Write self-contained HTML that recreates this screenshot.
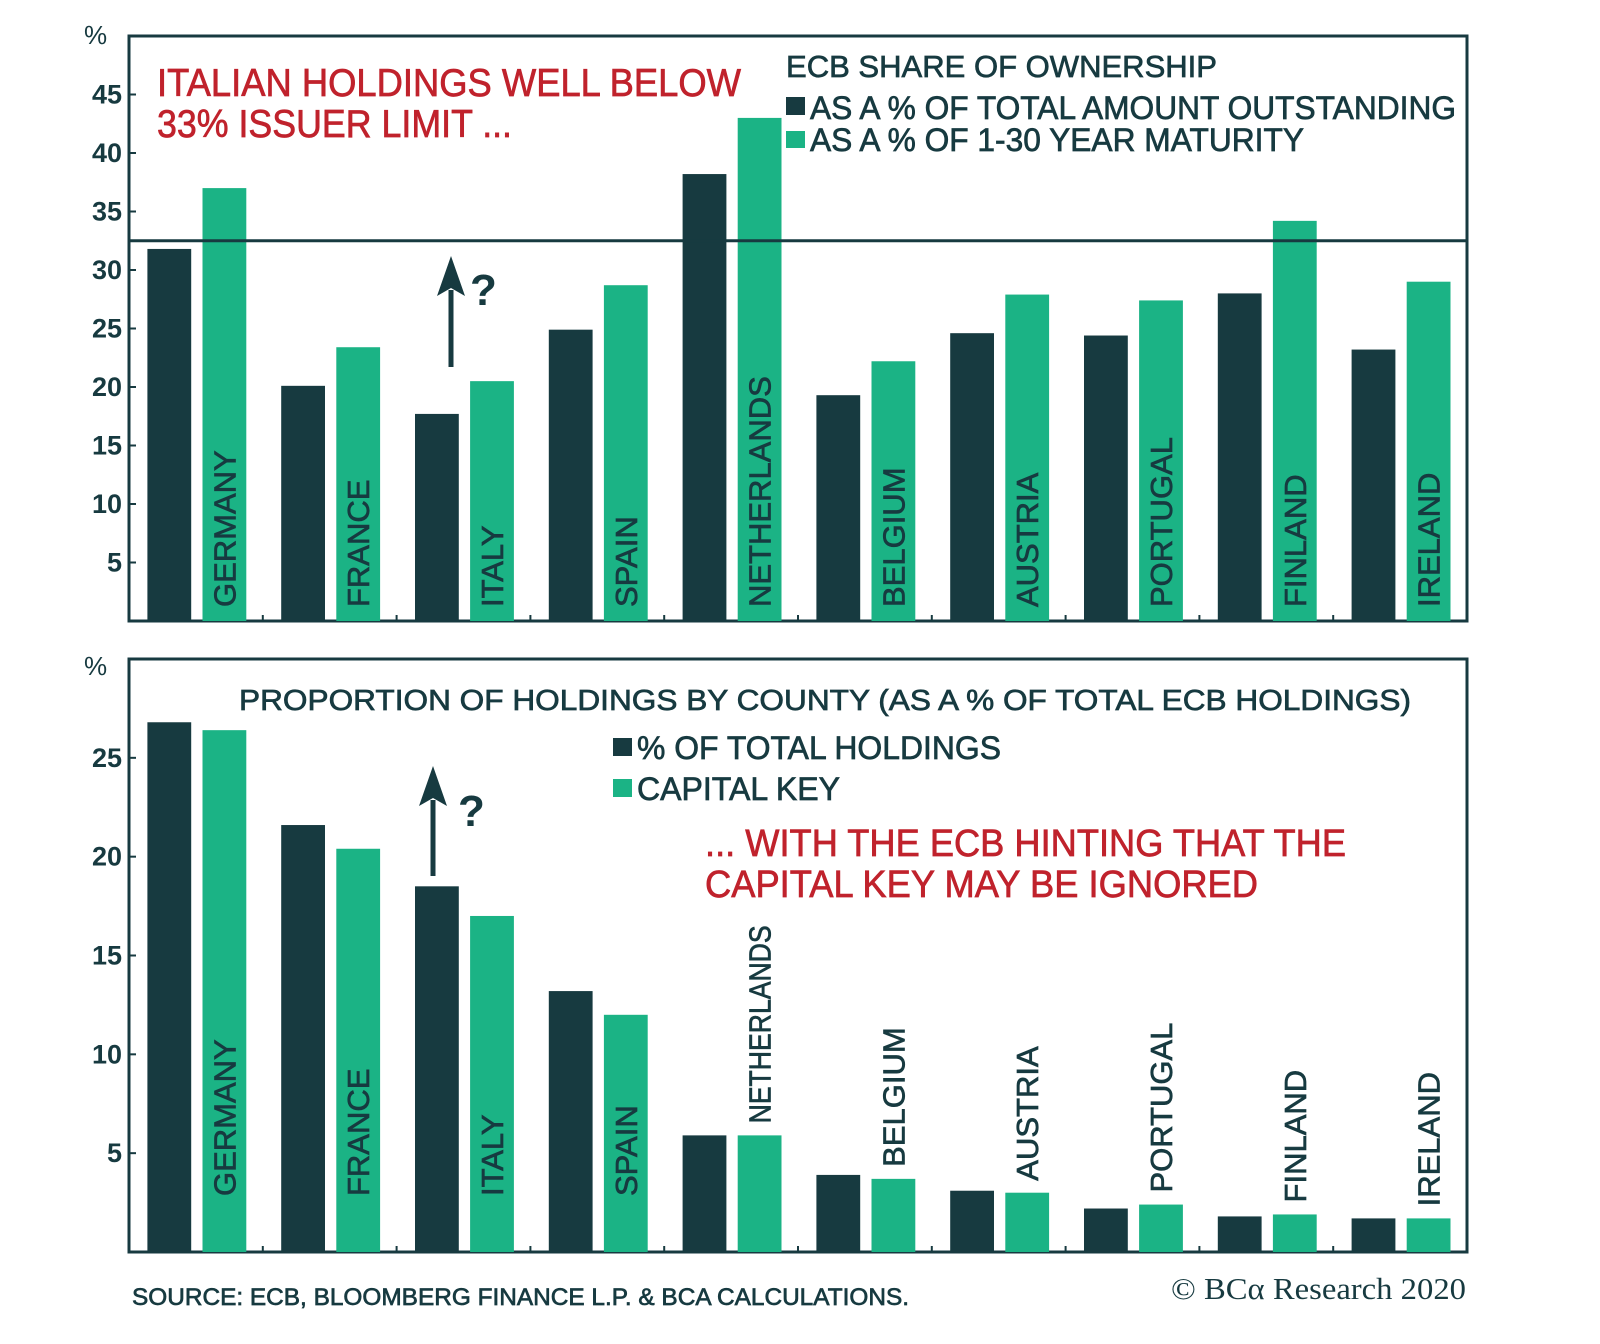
<!DOCTYPE html>
<html><head><meta charset="utf-8">
<style>
html,body{margin:0;padding:0;background:#fff;}
svg{display:block;font-family:"Liberation Sans",sans-serif;}
.b{stroke-width:0.7px;paint-order:fill;}
</style></head>
<body>
<svg id="chart" width="1600" height="1344" viewBox="0 0 1600 1344" xmlns="http://www.w3.org/2000/svg">
<rect width="1600" height="1344" fill="#fff"/>
<g id="top"></g>
<g id="bot"></g>

<text x="84" y="44" font-size="26" fill="#173a40">%</text>
<text x="84" y="675" font-size="26" fill="#173a40">%</text>

<text font-size="39" fill="#c0222c" stroke="#c0222c" class="b">
<tspan x="157" y="96" textLength="584" lengthAdjust="spacingAndGlyphs">ITALIAN HOLDINGS WELL BELOW</tspan>
<tspan x="157" y="137" textLength="355" lengthAdjust="spacingAndGlyphs">33% ISSUER LIMIT ...</tspan></text>

<text x="786" y="77" font-size="31" fill="#173a40" stroke="#173a40" class="b" textLength="431" lengthAdjust="spacingAndGlyphs">ECB SHARE OF OWNERSHIP</text>
<rect x="786" y="97" width="19" height="18" fill="#173a40"/>
<text x="810" y="119" font-size="32" fill="#173a40" stroke="#173a40" class="b" textLength="646" lengthAdjust="spacingAndGlyphs">AS A % OF TOTAL AMOUNT OUTSTANDING</text>
<rect x="786" y="131" width="19" height="17" fill="#1bb385"/>
<text x="810" y="151" font-size="32" fill="#173a40" stroke="#173a40" class="b" textLength="494" lengthAdjust="spacingAndGlyphs">AS A % OF 1-30 YEAR MATURITY</text>

<text x="239" y="710" font-size="29" fill="#173a40" stroke="#173a40" class="b" textLength="1172" lengthAdjust="spacingAndGlyphs">PROPORTION OF HOLDINGS BY COUNTY (AS A % OF TOTAL ECB HOLDINGS)</text>
<rect x="613" y="738" width="19" height="18" fill="#173a40"/>
<text x="637" y="759" font-size="32" fill="#173a40" stroke="#173a40" class="b" textLength="364" lengthAdjust="spacingAndGlyphs">% OF TOTAL HOLDINGS</text>
<rect x="613" y="779" width="19" height="18" fill="#1bb385"/>
<text x="637" y="800" font-size="32" fill="#173a40" stroke="#173a40" class="b" textLength="203" lengthAdjust="spacingAndGlyphs">CAPITAL KEY</text>

<text font-size="38" fill="#c0222c" stroke="#c0222c" class="b">
<tspan x="705" y="856" textLength="641" lengthAdjust="spacingAndGlyphs">... WITH THE ECB HINTING THAT THE</tspan>
<tspan x="705" y="897" textLength="553" lengthAdjust="spacingAndGlyphs">CAPITAL KEY MAY BE IGNORED</tspan></text>

<g>
<line x1="451" y1="367" x2="451" y2="290" stroke="#173a40" stroke-width="5"/>
<polygon points="451,256 437,296 451,288 465,296" fill="#173a40"/>
<text x="470" y="305" font-size="44" font-weight="bold" fill="#173a40">?</text>
</g>
<g>
<line x1="433" y1="876" x2="433" y2="800" stroke="#173a40" stroke-width="5"/>
<polygon points="433,766 419,806 433,798 447,806" fill="#173a40"/>
<text x="458" y="826" font-size="44" font-weight="bold" fill="#173a40">?</text>
</g>

<text x="132" y="1305" font-size="24" fill="#173a40" stroke="#173a40" class="b" textLength="777" lengthAdjust="spacingAndGlyphs">SOURCE: ECB, BLOOMBERG FINANCE L.P. &amp; BCA CALCULATIONS.</text>
<text x="1171" y="1299" font-size="31" font-family="Liberation Serif, serif" fill="#173a40" textLength="295" lengthAdjust="spacingAndGlyphs">© BCα Research 2020</text>
</svg>
<script>
const countries = ["GERMANY","FRANCE","ITALY","SPAIN","NETHERLANDS","BELGIUM","AUSTRIA","PORTUGAL","FINLAND","IRELAND"];
const topOutstanding = [31.8,20.1,17.7,24.9,38.2,19.3,24.6,24.4,28.0,23.2];
const topMaturity = [37.0,23.4,20.5,28.7,43.0,22.2,27.9,27.4,34.2,29.0];
const issuerLimit = 32.5;
const topTicks = [5,10,15,20,25,30,35,40,45];
const botHoldings = [26.8,21.6,18.5,13.2,5.9,3.9,3.1,2.2,1.8,1.7];
const botCapitalKey = [26.4,20.4,17.0,12.0,5.9,3.7,3.0,2.4,1.9,1.7];
const botTicks = [5,10,15,20,25];

const NS = "http://www.w3.org/2000/svg";
const DARK = "#173a40", GREEN = "#1bb385";
function mk(parent, tag, attrs){ const e=document.createElementNS(NS,tag); for(const k in attrs) e.setAttribute(k,attrs[k]); parent.appendChild(e); return e; }

const X0 = 129, X1 = 1467, GW = (X1-X0)/countries.length;
function xGroup(i){ return X0 + i*GW; }

function panel(g, top, zeroY, maxV, ticks, s1, s2, s1name, s2name, bottomPanel, limit){
  const y = v => zeroY - v*(zeroY-top)/maxV;
  const frame = mk(g,"rect",{x:X0,y:top,width:X1-X0,height:zeroY-top,fill:"none",stroke:DARK,"stroke-width":3});
  
  
  ticks.forEach(t=>{
    const tk = mk(g,"line",{x1:X0,x2:X0+7,y1:y(t),y2:y(t),stroke:DARK,"stroke-width":2});
    
    
    const lb = mk(g,"text",{x:X0-7,y:y(t)+9,"text-anchor":"end","font-size":27,"font-weight":"bold",fill:DARK});
    lb.textContent = t;
    
    
  });
  for(let i=1;i<countries.length;i++){
    const tk = mk(g,"line",{x1:xGroup(i),x2:xGroup(i),y1:zeroY,y2:zeroY-6,stroke:DARK,"stroke-width":2});
    
    
  }
  countries.forEach((c,i)=>{
    const gx = xGroup(i);
    const b1 = mk(g,"rect",{x:gx+18.4,y:y(s1[i]),width:43.8,height:zeroY-y(s1[i]),fill:DARK});
    
    
    const b2 = mk(g,"rect",{x:gx+73.5,y:y(s2[i]),width:43.8,height:zeroY-y(s2[i]),fill:GREEN});
    
    
    const cx = gx+73.5+21.9+11;
    let by;
    const inside = !bottomPanel || (zeroY - y(s2[i]) > 200);
    if(bottomPanel){ by = inside ? zeroY-56 : y(s2[i])-12; } else { by = zeroY-14; }
    const attrs = {x:cx,y:by,"font-size":31,fill:DARK,stroke:DARK,"stroke-width":0.7,transform:"rotate(-90 "+cx+" "+by+")"};
    if(!inside && c.length > 9){ attrs.textLength = 198; attrs.lengthAdjust = "spacingAndGlyphs"; }
    const t = mk(g,"text",attrs);
    t.textContent = c;
    
    
  });
  if(limit!==undefined){
    const l = mk(g,"line",{x1:X0,x2:X1,y1:y(limit),y2:y(limit),stroke:DARK,"stroke-width":3});
    
    
  }
}
panel(document.getElementById("top"), 36, 621, 50, topTicks, topOutstanding, topMaturity, "outstanding", "maturity", false, issuerLimit);
panel(document.getElementById("bot"), 659, 1252, 30, botTicks, botHoldings, botCapitalKey, "holdings", "capital-key", true);
</script>
</body></html>
